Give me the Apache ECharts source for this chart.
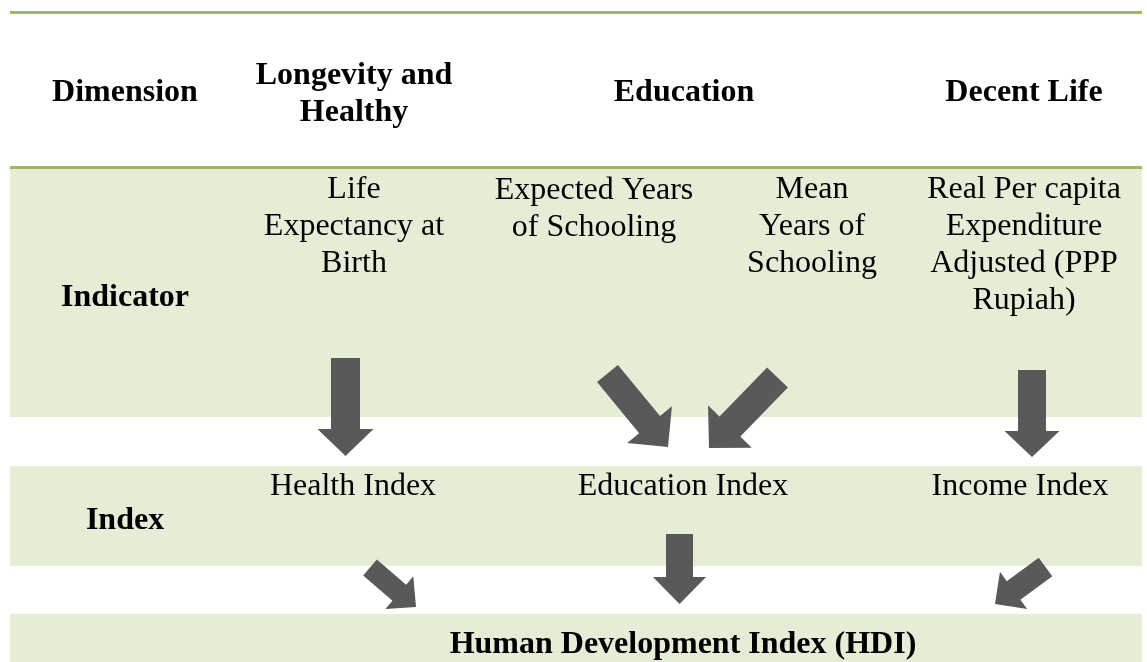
<!DOCTYPE html>
<html>
<head>
<meta charset="utf-8">
<script src="https://cdn.jsdelivr.net/npm/echarts@6/dist/echarts.min.js"></script>
<style>
html,body{margin:0;padding:0;background:#fff;}
#chart{width:1147px;height:662px;}
</style>
</head>
<body>
<div id="chart"></div>
<script>
// Row labels (left column)
var rowLabels = ['Dimension', 'Indicator', 'Index'];
// Dimension headers
var dimensions = ['Longevity and\nHealthy', 'Education', 'Decent Life'];
// Indicators
var indicators = ['Life\nExpectancy at\nBirth', 'Expected Years\nof Schooling', 'Mean\nYears of\nSchooling', 'Real Per capita\nExpenditure\nAdjusted (PPP\nRupiah)'];
// Indices
var indices = ['Health Index', 'Education Index', 'Income Index'];
// Final
var finalIndex = 'Human Development Index (HDI)';

var GREEN_LINE = '#9bbb59';
var BAND = '#e5edd7';
var ARROW = '#595959';
var FONT = '"Liberation Serif", "Times New Roman", serif';

// arrow polygon: tail centre (tx,ty) to tip (hx,hy), shaft width, head width, head length
function arrow(tx, ty, hx, hy, sw, hw, hl) {
  var dx = hx - tx, dy = hy - ty;
  var L = Math.sqrt(dx*dx + dy*dy);
  var ux = dx / L, uy = dy / L;
  var px = -uy, py = ux;
  var bx = hx - ux*hl, by = hy - uy*hl;
  var pts = [
    [tx + px*sw/2, ty + py*sw/2],
    [bx + px*sw/2, by + py*sw/2],
    [bx + px*hw/2, by + py*hw/2],
    [hx, hy],
    [bx - px*hw/2, by - py*hw/2],
    [bx - px*sw/2, by - py*sw/2],
    [tx - px*sw/2, ty - py*sw/2]
  ];
  return {type:'polygon', shape:{points:pts}, style:{fill:ARROW}, z:10};
}

function txt(s, x, y, bold) {
  return {
    type:'text', z:20,
    style:{
      text:s, x:x, y:y, align:'center', verticalAlign:'middle',
      font:(bold ? 'bold ' : '') + '32px ' + FONT,
      lineHeight:37, fill:'#000'
    }
  };
}

var elements = [];
// bands
elements.push({type:'rect', shape:{x:10, y:168, width:1132, height:249}, style:{fill:BAND}, z:1});
elements.push({type:'rect', shape:{x:10, y:466, width:1132, height:100}, style:{fill:BAND}, z:1});
elements.push({type:'rect', shape:{x:10, y:614, width:1132, height:48}, style:{fill:BAND}, z:1});
// green lines
elements.push({type:'rect', shape:{x:10, y:11, width:1132, height:3}, style:{fill:GREEN_LINE}, z:2});
elements.push({type:'rect', shape:{x:10, y:166, width:1132, height:3}, style:{fill:GREEN_LINE}, z:2});

// row labels
elements.push(txt(rowLabels[0], 125, 93, true));
elements.push(txt(rowLabels[1], 125, 298, true));
elements.push(txt(rowLabels[2], 125, 521, true));
// dimensions
elements.push(txt(dimensions[0], 354, 94, true));
elements.push(txt(dimensions[1], 684, 93, true));
elements.push(txt(dimensions[2], 1024, 93, true));
// indicators
elements.push(txt(indicators[0], 354, 227, false));
elements.push(txt(indicators[1], 594, 209, false));
elements.push(txt(indicators[2], 812, 227, false));
elements.push(txt(indicators[3], 1024, 245, false));
// indices
elements.push(txt(indices[0], 353, 487, false));
elements.push(txt(indices[1], 683, 487, false));
elements.push(txt(indices[2], 1020, 487, false));
// final
elements.push(txt(finalIndex, 683, 645, true));

// arrows
elements.push(arrow(345.5, 358, 345.5, 456, 29, 56, 27));
elements.push(arrow(607.5, 373.5, 668, 447, 27, 58, 29));
elements.push(arrow(777.5, 377.5, 709, 448, 29, 61, 30));
elements.push(arrow(1032, 370, 1032, 457, 28, 55, 26));
elements.push(arrow(370, 567.5, 416, 607, 21, 43, 22));
elements.push(arrow(679.5, 534, 679.5, 604, 27, 53, 27));
elements.push(arrow(1045.5, 567, 995, 604, 23, 46, 23));

var chart = echarts.init(document.getElementById('chart'), null, {renderer:'canvas'});
chart.setOption({
  backgroundColor:'#fff',
  animation:false,
  graphic:{elements:elements}
});
</script>
</body>
</html>
